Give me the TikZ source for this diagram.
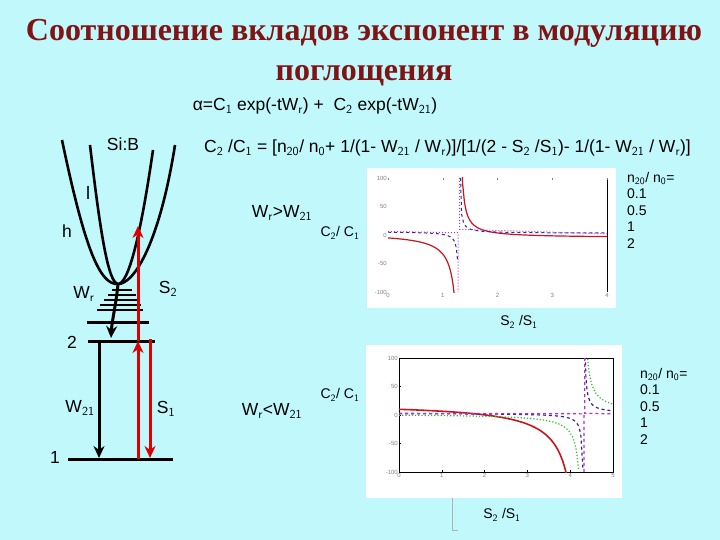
\documentclass[tikz,border=0pt]{standalone}
\usepackage{fontspec}
\usetikzlibrary{arrows.meta}
\setmainfont{Liberation Sans}
\newfontfamily\titlefont{Liberation Serif}
\definecolor{bg}{RGB}{192,248,252}
\definecolor{ttl}{RGB}{128,20,20}
\definecolor{rd}{RGB}{220,0,0}
\definecolor{pr}{RGB}{200,20,30}
\definecolor{pb}{RGB}{40,40,160}
\definecolor{pm}{RGB}{200,40,200}
\definecolor{pg}{RGB}{40,190,40}
\begin{document}
\begin{tikzpicture}[x=1pt,y=-1pt,
 lbl/.style={font=\fontsize{17.5}{20}\selectfont,inner sep=0pt},
 small/.style={font=\fontsize{14}{16.5}\selectfont,inner sep=0pt},
 tick/.style={font=\fontsize{6}{6}\selectfont,inner sep=1pt,text=gray},
 lev/.style={line width=3pt},
 blk/.style={line width=3pt,-{Stealth[length=12pt,width=11pt]}},
 red/.style={rd,line width=3pt,-{Stealth[length=12pt,width=11pt]}},
 curve/.style={line width=2.6pt}]
\fill[bg] (0,0) rectangle (720,540);
\useasboundingbox (0,0) rectangle (720,540);
\node[font=\titlefont\bfseries\fontsize{32}{40}\selectfont,text=ttl,align=center] (title) at (364,53) {Соотношение вкладов экспонент в модуляцию\\поглощения};
\node[lbl] (alpha) at (315,106) {α=C$_{\mathsf 1}$ exp(-tW$_{\mathsf r}$) +\; C$_{\mathsf 2}$ exp(-tW$_{\mathsf{21}}$)};
\node[lbl,anchor=west] (ratio) at (204,148) {C$_{\mathsf 2}$ /C$_{\mathsf 1}$ = [n$_{\mathsf{20}}$/ n$_{\mathsf 0}$+ 1/(1- W$_{\mathsf{21}}$ / W$_{\mathsf r}$)]/[1/(2 - S$_{\mathsf 2}$ /S$_{\mathsf 1}$)- 1/(1- W$_{\mathsf{21}}$ / W$_{\mathsf r}$)]};
% left energy diagram
\node[lbl] (sib) at (123,144) {Si:B};
\node[font=\fontsize{18}{18}\selectfont\rmfamily,inner sep=0pt] (l) at (88,193) {l};
\node[lbl] (h) at (67,231) {h};
\draw[curve] (62,140) .. controls (85,250) and (100,285) .. (118,284) .. controls (135,284) and (160,240) .. (175,145);
\draw[curve] (90,145) .. controls (100,230) and (108,283) .. (118,284) .. controls (128,284) and (140,240) .. (153,150);
\foreach \y/\a/\b in {290/112/132,295/108/136,300/104/139,305/100/141,310/97/143}{\draw[line width=2pt] (\a,\y) -- (\b,\y);}
\draw[lev] (87,322) -- (149,322);
\draw[lev] (88,341) coordinate (l2a) -- (155,341) coordinate (l2b);
\draw[lev] (68,459) coordinate (l1a) -- (173,459) coordinate (l1b);
\coordinate (wrs) at (118,284); \coordinate (wre) at (111,338);
\draw[blk] (wrs) .. controls (116,305) and (112,320) .. (wre);
\coordinate (w21s) at (99,341); \coordinate (w21e) at (99,458);
\draw[blk] (w21s) -- (w21e);
\coordinate (r1) at (138,459); \coordinate (r2) at (138,341); \coordinate (r3) at (138,226);
\draw[red] (r1) -- (r2); \draw[red] (r2) -- (r3);
\coordinate (s1s) at (150,339); \coordinate (s1e) at (150,458);
\draw[red] (s1s) -- (s1e);
\node[lbl] (wr) at (84,294) {W$_{\mathsf r}$};
\node[lbl] (s2) at (168,289) {S$_{\mathsf 2}$};
\node[lbl] (n2) at (72,342) {2};
\node[lbl] (w21) at (80,408) {W$_{\mathsf{21}}$};
\node[lbl] (s1) at (166,409) {S$_{\mathsf 1}$};
\node[lbl] (n1) at (55,457) {1};
% plot 1
\node[lbl] (cond1) at (282,213) {W$_{\mathsf r}$>W$_{\mathsf{21}}$};
\node[small] (c21a) at (340,233) {C$_{\mathsf 2}$/ C$_{\mathsf 1}$};
\fill[white] (367,168) rectangle (616,308);
\begin{scope}[shift={(388,235)},x=54.75pt,y=0.57pt]
 \draw[black,line width=0.8pt] (4,-100) -- (4,100);
 \foreach \t in {0,1,2,3,4}{\node[tick,below] (xt\t) at (\t,-100) {\t}; \draw[gray] (\t,100) -- (\t,96);}
 \foreach \t/\s in {100/100,50/50,0/0,-50/-50,-100/-100}{\node[tick,left] (yt\s) at (0,\t) {\s};}
 \clip (0,-100) rectangle (4,100);
 \draw[pr,line width=1.2pt,domain=0:1.23,samples=60] plot (\x,{-12/(1.32-\x)+4});
 \draw[pr,line width=1.2pt,domain=1.33:4,samples=80] plot (\x,{6/(\x-1.3)-5});
 \draw[pb,dashed,line width=1pt,domain=0:1.27,samples=60] plot (\x,{-1.5/(1.3-\x)+6});
 \draw[pb,dashed,line width=1pt,domain=1.31:4,samples=80] plot (\x,{1.5/(\x-1.3)+3});
 \draw[pm,dotted,line width=1pt] (0,6) -- (1.28,4) -- (1.28,-100);
 \draw[pm,dotted,line width=1pt] (1.31,100) -- (1.31,10) -- (4,2);
\end{scope}
\node[small,align=left,anchor=north west] (leg1) at (627,172) {n$_{\mathsf{20}}$/ n$_{\mathsf 0}$=\\0.1\\0.5\\1\\2};
\node[small] (ax1) at (519,322) {S$_{\mathsf 2}$ /S$_{\mathsf 1}$};
% plot 2
\node[small] (c21b) at (340,395) {C$_{\mathsf 2}$/ C$_{\mathsf 1}$};
\node[lbl] (cond2) at (272,411) {W$_{\mathsf r}$<W$_{\mathsf{21}}$};
\fill[white] (366,345) rectangle (622,498);
\begin{scope}[shift={(399,415)},x=42.8pt,y=0.57pt]
 \draw[black,line width=0.6pt] (0,-100) rectangle (5,100);
 \foreach \t in {0,1,2,3,4,5}{\node[tick,below] (zt\t) at (\t,-100) {\t}; \draw (\t,-100) -- (\t,-96);}
 \foreach \t/\s in {100/100,50/50,0/0,-50/-50,-100/-100}{\node[tick,left] (wt\s) at (0,\t) {\s}; \draw (0,\t) -- (0.05,\t);}
 \clip (0,-100) rectangle (5,100);
 \draw[pr,line width=1.6pt,domain=0:3.92,samples=80] plot (\x,{21.3-48.5/(4.3-\x)});
 \draw[pg,dotted,line width=1.2pt,domain=0:4.2,samples=80] plot (\x,{2-10/(4.3-\x)});
 \draw[pg,dotted,line width=1.2pt,domain=4.36:5,samples=40] plot (\x,{10/(\x-4.3)+5});
 \draw[pb,dashed,line width=1.2pt,domain=0:4.3,samples=80] plot (\x,{3-3/(4.33-\x)});
 \draw[pb,dashed,line width=1.2pt,domain=4.35:5,samples=40] plot (\x,{3/(\x-4.32)+3});
 \draw[pm,dashed,line width=1.2pt] (0,3) -- (4.32,2) -- (4.32,-100);
 \draw[pm,dashed,line width=1.2pt] (4.34,100) -- (4.34,3) -- (5,2);
\end{scope}
\node[small,align=left,anchor=north west] (leg2) at (640,368) {n$_{\mathsf{20}}$/ n$_{\mathsf 0}$=\\0.1\\0.5\\1\\2};
\draw[gray!60] (452,498) coordinate (br1) -- (452,530) coordinate (br2) -- (458,530);
\node[small] (ax2) at (502,515) {S$_{\mathsf 2}$ /S$_{\mathsf 1}$};
\end{tikzpicture}
\end{document}
